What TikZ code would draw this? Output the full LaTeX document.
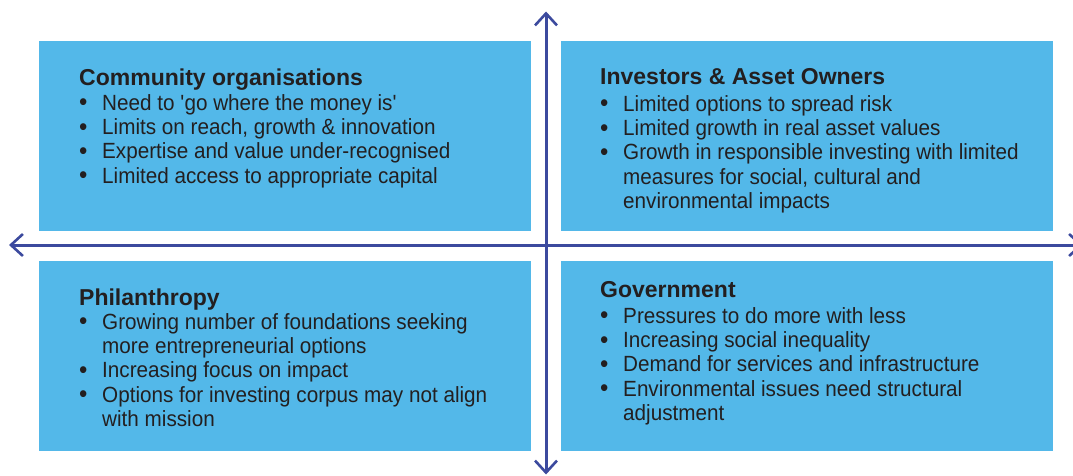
\documentclass[tikz,border=0pt]{standalone}
\usepackage{fontspec}
\usepackage{graphicx}
\setmainfont[FakeStretch=0.94]{Liberation Sans}
\newfontfamily\headfont{Liberation Sans}
\usetikzlibrary{arrows.meta}
\definecolor{boxblue}{RGB}{83,184,233}
\definecolor{axisblue}{RGB}{60,74,158}
\definecolor{ink}{RGB}{35,31,32}
\newcommand\bl{\makebox[23pt][l]{\raisebox{-0.5pt}{\scalebox{1.15}{\textbullet}}}}
\newcommand\ind{\hspace*{23pt}}
\newcommand\hd[1]{{\headfont\bfseries\fontsize{23}{24.3}\selectfont #1}}
\begin{document}
\begin{tikzpicture}[x=1pt,y=-1pt,
  quad/.style={fill=boxblue,draw=none,inner sep=0pt,minimum width=492pt,minimum height=190pt},
  txt/.style={anchor=base west,inner sep=0pt,text=ink},
  axis/.style={draw=axisblue,line width=3pt,{Straight Barb[length=12pt,width=22pt,line width=2.6pt]}-{Straight Barb[length=12pt,width=22pt,line width=2.6pt]}}]
\useasboundingbox (0,0) rectangle (1073,476);
\node[quad] (q1) at (285,136) {};
\node[quad] (q2) at (807,136) {};
\node[quad] (q3) at (285,356) {};
\node[quad] (q4) at (807,356) {};
\node[txt] (t1) at (79,86) {\parbox[t]{450pt}{\raggedright\fontsize{22}{24.3}\selectfont
\hd{Community organisations}\\
\bl Need to \textquotesingle go where the money is\textquotesingle\\
\bl Limits on reach, growth \& innovation\\
\bl Expertise and value under-recognised\\
\bl Limited access to appropriate capital}};
\node[txt] (t2) at (600,85) {\parbox[t]{450pt}{\raggedright\fontsize{22}{24.3}\selectfont
\hd{Investors \& Asset Owners}\\[2pt]
\bl Limited options to spread risk\\
\bl Limited growth in real asset values\\
\bl Growth in responsible investing with limited\\
\ind measures for social, cultural and\\
\ind environmental impacts}};
\node[txt] (t3) at (79,305) {\parbox[t]{450pt}{\raggedright\fontsize{22}{24.3}\selectfont
\hd{Philanthropy}\\
\bl Growing number of foundations seeking\\
\ind more entrepreneurial options\\
\bl Increasing focus on impact\\
\bl Options for investing corpus may not align\\
\ind with mission}};
\node[txt] (t4) at (600,297) {\parbox[t]{450pt}{\raggedright\fontsize{22}{24.3}\selectfont
\hd{Government}\\[2pt]
\bl Pressures to do more with less\\
\bl Increasing social inequality\\
\bl Demand for services and infrastructure\\
\bl Environmental issues need structural\\
\ind adjustment}};
\coordinate (vt) at (546,11.5);
\coordinate (vb) at (546,474.5);
\coordinate (hl) at (9,245);
\coordinate (hr) at (1083,245);
\draw[axis] (vb) -- (vt);
\draw[axis] (hl) -- (hr);
\end{tikzpicture}
\end{document}
